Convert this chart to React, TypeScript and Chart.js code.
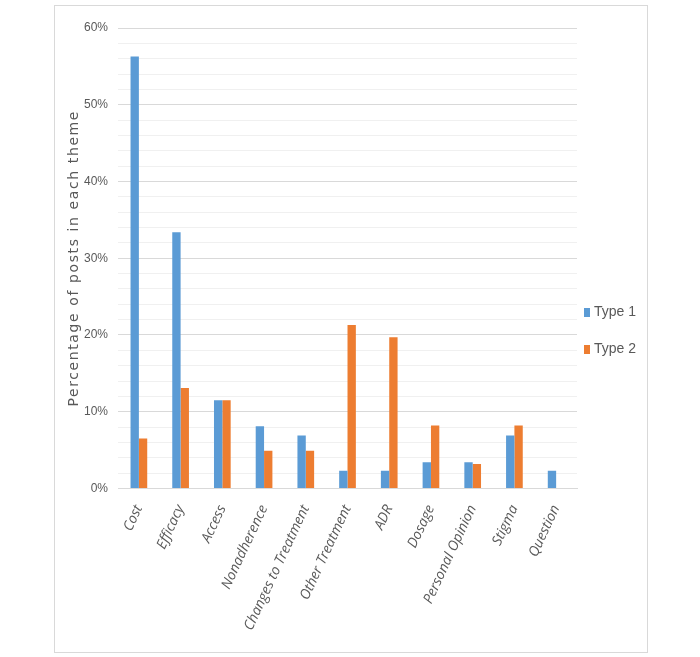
import React, { useEffect, useRef } from "react";
import { Chart, registerables } from "chart.js";

Chart.register(...registerables);

const categories = [
  "Cost",
  "Efficacy",
  "Access",
  "Nonadherence",
  "Changes to Treatment",
  "Other Treatment",
  "ADR",
  "Dosage",
  "Personal Opinion",
  "Stigma",
  "Question",
];
const type1Values = [56.3, 33.4, 11.5, 8.1, 6.9, 2.3, 2.3, 3.4, 3.4, 6.9, 2.3];
const type2Values = [6.5, 13.1, 11.5, 4.9, 4.9, 21.3, 19.7, 8.2, 3.2, 8.2, 0];
const seriesNames = ["Type 1", "Type 2"];
const seriesColors = ["#5B9BD5", "#ED7D31"];
const yTitle = "Percentage of posts in each theme";

const TEXT_COLOR = "#595959";
const NARROW = "'Liberation Sans Narrow', 'Liberation Sans', sans-serif";

const sidePlugin = {
  id: "sideDecor",
  afterDraw(chart: any) {
    const { ctx, chartArea } = chart;
    ctx.save();
    // y-axis title with letter spacing
    ctx.fillStyle = TEXT_COLOR;
    ctx.font = "14px 'DejaVu Sans', sans-serif";
    try {
      (ctx as any).letterSpacing = "1.6px";
    } catch (e) {}
    ctx.textAlign = "center";
    ctx.textBaseline = "middle";
    ctx.translate(19, (chartArea.top + chartArea.bottom) / 2);
    ctx.rotate(-Math.PI / 2);
    ctx.fillText(yTitle, 0, 0);
    ctx.restore();

    // legend
    ctx.save();
    try {
      (ctx as any).letterSpacing = "0px";
    } catch (e) {}
    const spacing = 37;
    const n = chart.data.datasets.length;
    const cy = chart.height / 2 + 2 - ((n - 1) * spacing) / 2;
    const x0 = chartArea.right + 7;
    ctx.font = "14px " + NARROW;
    ctx.textBaseline = "middle";
    ctx.textAlign = "left";
    chart.data.datasets.forEach((ds: any, i: number) => {
      const y = cy + i * spacing;
      ctx.fillStyle = ds.backgroundColor;
      ctx.fillRect(x0, y - 4.5, 6, 9);
      ctx.fillStyle = TEXT_COLOR;
      ctx.fillText(ds.label, x0 + 10, y);
    });
    ctx.restore();
  },
};

export default function App() {
  const ref = useRef<HTMLCanvasElement | null>(null);
  useEffect(() => {
    if (!ref.current) return;
    const chart = new Chart(ref.current, {
      type: "bar",
      data: {
        labels: categories,
        datasets: [
          {
            label: seriesNames[0],
            data: type1Values,
            backgroundColor: seriesColors[0],
            categoryPercentage: 0.4,
            barPercentage: 1,
          },
          {
            label: seriesNames[1],
            data: type2Values,
            backgroundColor: seriesColors[1],
            categoryPercentage: 0.4,
            barPercentage: 1,
          },
        ],
      },
      options: {
        animation: false,
        responsive: true,
        maintainAspectRatio: false,
        layout: { padding: { top: 22, left: 19, right: 70, bottom: 13 } },
        plugins: {
          tooltip: { enabled: false },
          legend: { display: false },
        },
        scales: {
          x: {
            grid: { display: false },
            border: { color: "#d9d9d9" },
            ticks: {
              autoSkip: false,
              minRotation: 65,
              maxRotation: 65,
              color: TEXT_COLOR,
              padding: 6,
              font: { family: "'Open Sans', sans-serif", size: 14, style: "italic" },
            },
          },
          y: {
            min: 0,
            max: 60,
            border: { display: false },
            grid: {
              drawTicks: false,
              color: (ctx: any) =>
                ctx.tick && ctx.tick.value % 10 === 0 ? "#d9d9d9" : "#f0f0f0",
            },
            ticks: {
              stepSize: 2,
              autoSkip: false,
              padding: 10,
              color: TEXT_COLOR,
              font: { family: NARROW, size: 12 },
              callback: (v: any) => (Number(v) % 10 === 0 ? v + "%" : ""),
            },
          },
        },
      },
      plugins: [sidePlugin],
    });
    return () => chart.destroy();
  }, []);
  return (
    <div
      style={{
        position: "absolute",
        left: 54,
        top: 5,
        width: 594,
        height: 648,
        border: "1px solid #d9d9d9",
        boxSizing: "border-box",
        background: "#fff",
      }}
    >
      <canvas ref={ref} />
    </div>
  );
}
